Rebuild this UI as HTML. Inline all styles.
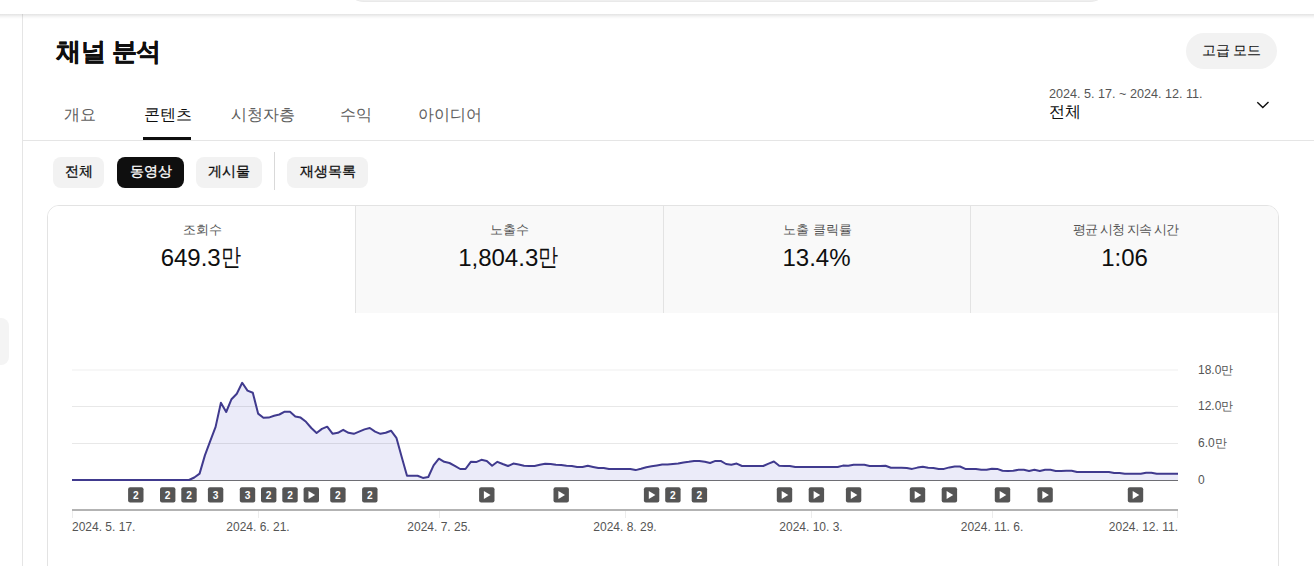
<!DOCTYPE html>
<html><head><meta charset="utf-8"><style>
*{box-sizing:border-box}
html,body{margin:0;padding:0;background:#fff;width:1314px;height:566px;overflow:hidden;font-family:"Liberation Sans",sans-serif;color:#0f0f0f}
.a{position:absolute;white-space:nowrap}
#hdr{position:absolute;left:0;top:0;width:1314px;height:14px;background:#fff;z-index:3}
#hsh{position:absolute;left:0;top:14px;width:1314px;height:5px;background:linear-gradient(rgba(0,0,0,.11),rgba(0,0,0,.03) 60%,rgba(0,0,0,0));z-index:3}
#search{position:absolute;left:344px;top:-39px;width:766px;height:41px;border:1px solid #e9e9e9;border-radius:20px;background:#efefef;z-index:4}
#side{position:absolute;left:22px;top:14px;width:1px;height:560px;background:#e5e5e5}
#sidebtn{position:absolute;left:-20px;top:318px;width:29px;height:47px;border-radius:8px;background:#f4f4f4}
.title{left:56px;top:35px;font-size:25px;font-weight:bold;letter-spacing:-0.4px;-webkit-text-stroke:0.35px #0f0f0f}
.tab{top:105px;font-size:16px;color:#606060}
.tab.sel{color:#0f0f0f}
#tabline{position:absolute;left:143px;top:137px;width:48px;height:3px;background:#0f0f0f}
#divider{position:absolute;left:23px;top:140px;width:1291px;height:1px;background:#e5e5e5}
#adv{position:absolute;left:1186px;top:33px;width:91px;height:36px;border-radius:18px;background:#f2f2f2;font-size:14px;line-height:35px;text-align:center}
.daterange{left:1049px;top:87px;font-size:12.6px;color:#555}
.dateall{left:1049px;top:102px;font-size:16px}
.chip{position:absolute;top:157px;height:31px;border-radius:8px;background:#f2f2f2;font-size:14px;line-height:29px;text-align:center;-webkit-text-stroke:0.3px currentColor}
.chip.sel{background:#0f0f0f;color:#fff}
#vsep{position:absolute;left:274px;top:152px;width:1px;height:38px;background:#d9d9d9}
#card{position:absolute;left:47px;top:205px;width:1232px;height:400px;border:1px solid #e3e3e3;border-radius:12px;overflow:hidden;background:#fff}
.met{position:absolute;top:0;height:107px;background:#f9f9f9;border-left:1px solid #e3e3e3}
.met .lb{position:absolute;left:0;right:0;top:16px;text-align:center;font-size:12.5px;color:#555}
.met .v{position:absolute;left:-2px;right:0;top:36px;line-height:32px;text-align:center;font-size:24px;color:#0f0f0f}
.m{display:inline-block;transform:scaleX(.84);transform-origin:0 0;margin-right:-3.4px;position:relative;top:-1px}
.ylab{font-size:12px;color:#555;left:1198px}
.xlab{font-size:12px;color:#555;top:520px}
</style></head><body>
<div id="hdr"></div><div id="hsh"></div>
<div id="search"></div>
<div id="side"></div>
<div id="sidebtn"></div>
<div class="a title">채널 분석</div>
<div id="adv">고급 모드</div>
<div class="a tab" style="left:64px">개요</div>
<div class="a tab sel" style="left:144px">콘텐츠</div>
<div class="a tab" style="left:231px">시청자층</div>
<div class="a tab" style="left:340px">수익</div>
<div class="a tab" style="left:418px">아이디어</div>
<div id="tabline"></div>
<div id="divider"></div>
<div class="a daterange">2024. 5. 17. ~ 2024. 12. 11.</div>
<div class="a dateall">전체</div>
<svg class="a" style="left:1255px;top:100px" width="16" height="10" viewBox="0 0 16 10"><path d="M2.3,2.3 L7.8,7.6 L13.5,2.1" fill="none" stroke="#0f0f0f" stroke-width="1.4"/></svg>
<div class="chip" style="left:53px;width:51px">전체</div>
<div class="chip sel" style="left:117px;width:67px">동영상</div>
<div class="chip" style="left:196px;width:66px">게시물</div>
<div id="vsep"></div>
<div class="chip" style="left:287px;width:81px">재생목록</div>
<div id="card">
  <div class="met" style="left:0;width:308px;background:#fff;border-left:none"><div class="lb">조회수</div><div class="v">649.3<span class="m">만</span></div></div>
  <div class="met" style="left:307px;width:308px"><div class="lb">노출수</div><div class="v">1,804.3<span class="m">만</span></div></div>
  <div class="met" style="left:615px;width:308px"><div class="lb">노출 클릭률</div><div class="v">13.4%</div></div>
  <div class="met" style="left:922px;width:310px"><div class="lb" style="letter-spacing:-0.9px">평균 시청 지속 시간</div><div class="v">1:06</div></div>
</div>
<svg class="a" style="left:0;top:0" width="1314" height="566" viewBox="0 0 1314 566" font-family="Liberation Sans, sans-serif">
  <path d="M72.0,480.0 L77.3,480.0 L82.6,480.0 L88.0,480.0 L93.3,480.0 L98.6,480.0 L103.9,480.0 L109.2,480.0 L114.5,480.0 L119.9,480.0 L125.2,480.0 L130.5,480.0 L135.8,480.0 L141.1,480.0 L146.4,480.0 L151.8,480.0 L157.1,480.0 L162.4,480.0 L167.7,480.0 L173.0,480.0 L178.3,480.0 L183.7,480.0 L189.0,480.0 L194.3,477.5 L199.6,473.6 L204.9,455.4 L210.2,441.1 L215.6,426.9 L220.9,402.7 L226.2,412.0 L231.5,399.2 L236.8,393.7 L242.2,382.8 L247.5,390.6 L252.8,392.7 L258.1,413.6 L263.4,417.8 L268.7,417.6 L274.1,415.8 L279.4,414.5 L284.7,411.7 L290.0,411.7 L295.3,416.5 L300.6,417.6 L306.0,421.8 L311.3,428.0 L316.6,433.0 L321.9,428.9 L327.2,426.7 L332.5,433.7 L337.9,432.8 L343.2,429.8 L348.5,432.8 L353.8,433.8 L359.1,431.6 L364.5,429.4 L369.8,428.0 L375.1,431.6 L380.4,433.8 L385.7,432.8 L391.0,430.7 L396.4,437.8 L401.7,457.0 L407.0,475.8 L412.3,475.8 L417.6,475.8 L422.9,477.9 L428.3,477.0 L433.6,465.4 L438.9,458.7 L444.2,461.8 L449.5,463.0 L454.8,465.8 L460.2,469.0 L465.5,469.0 L470.8,461.8 L476.1,462.1 L481.4,459.8 L486.8,460.9 L492.1,465.7 L497.4,461.8 L502.7,464.0 L508.0,466.0 L513.3,463.6 L518.7,464.5 L524.0,465.8 L529.3,466.1 L534.6,466.0 L539.9,464.8 L545.2,463.7 L550.6,463.9 L555.9,464.8 L561.2,464.9 L566.5,465.8 L571.8,466.0 L577.1,467.0 L582.5,466.9 L587.8,465.8 L593.1,466.9 L598.4,468.0 L603.7,468.0 L609.0,468.9 L614.4,468.9 L619.7,468.9 L625.0,468.9 L630.3,468.9 L635.6,470.1 L641.0,468.7 L646.3,467.2 L651.6,466.3 L656.9,465.4 L662.2,464.5 L667.5,464.5 L672.9,463.9 L678.2,463.6 L683.5,462.4 L688.8,461.8 L694.1,460.9 L699.4,460.9 L704.8,461.8 L710.1,463.0 L715.4,460.9 L720.7,460.9 L726.0,464.0 L731.3,464.8 L736.7,463.6 L742.0,466.0 L747.3,466.0 L752.6,466.0 L757.9,466.0 L763.2,466.0 L768.6,463.6 L773.9,461.5 L779.2,465.8 L784.5,466.0 L789.8,466.0 L795.2,467.0 L800.5,467.0 L805.8,467.0 L811.1,467.0 L816.4,467.0 L821.7,467.0 L827.1,467.0 L832.4,467.0 L837.7,467.0 L843.0,465.6 L848.3,465.8 L853.6,464.8 L859.0,464.8 L864.3,464.8 L869.6,466.0 L874.9,466.0 L880.2,466.0 L885.5,465.8 L890.9,467.8 L896.2,467.8 L901.5,467.8 L906.8,468.0 L912.1,468.9 L917.5,467.6 L922.8,466.7 L928.1,467.8 L933.4,468.0 L938.7,468.9 L944.0,468.9 L949.4,467.4 L954.7,466.5 L960.0,466.5 L965.3,468.9 L970.6,468.9 L975.9,468.9 L981.3,469.8 L986.6,469.8 L991.9,468.7 L997.2,468.9 L1002.5,470.7 L1007.8,471.0 L1013.2,470.7 L1018.5,469.8 L1023.8,469.8 L1029.1,471.0 L1034.4,469.8 L1039.8,471.0 L1045.1,469.8 L1050.4,469.8 L1055.7,471.0 L1061.0,471.0 L1066.3,470.7 L1071.7,470.7 L1077.0,471.9 L1082.3,471.9 L1087.6,471.9 L1092.9,471.9 L1098.2,471.9 L1103.6,471.9 L1108.9,471.9 L1114.2,473.0 L1119.5,473.0 L1124.8,473.8 L1130.1,473.8 L1135.5,473.8 L1140.8,473.8 L1146.1,472.8 L1151.4,472.8 L1156.7,473.8 L1162.0,473.8 L1167.4,473.8 L1172.7,473.8 L1178.0,473.8 L1178,480 L72,480 Z" fill="#ebebf9"/>
  <g stroke="rgba(0,0,0,0.09)" stroke-width="1">
    <line x1="72" y1="370" x2="1178" y2="370" stroke="rgba(0,0,0,0.065)"/>
    <line x1="72" y1="406.5" x2="1178" y2="406.5"/>
    <line x1="72" y1="443.5" x2="1178" y2="443.5"/>
  </g>
  <line x1="72" y1="480.5" x2="1178" y2="480.5" stroke="#6e6e74" stroke-width="1"/>
  <path d="M72.0,480.0 L77.3,480.0 L82.6,480.0 L88.0,480.0 L93.3,480.0 L98.6,480.0 L103.9,480.0 L109.2,480.0 L114.5,480.0 L119.9,480.0 L125.2,480.0 L130.5,480.0 L135.8,480.0 L141.1,480.0 L146.4,480.0 L151.8,480.0 L157.1,480.0 L162.4,480.0 L167.7,480.0 L173.0,480.0 L178.3,480.0 L183.7,480.0 L189.0,480.0 L194.3,477.5 L199.6,473.6 L204.9,455.4 L210.2,441.1 L215.6,426.9 L220.9,402.7 L226.2,412.0 L231.5,399.2 L236.8,393.7 L242.2,382.8 L247.5,390.6 L252.8,392.7 L258.1,413.6 L263.4,417.8 L268.7,417.6 L274.1,415.8 L279.4,414.5 L284.7,411.7 L290.0,411.7 L295.3,416.5 L300.6,417.6 L306.0,421.8 L311.3,428.0 L316.6,433.0 L321.9,428.9 L327.2,426.7 L332.5,433.7 L337.9,432.8 L343.2,429.8 L348.5,432.8 L353.8,433.8 L359.1,431.6 L364.5,429.4 L369.8,428.0 L375.1,431.6 L380.4,433.8 L385.7,432.8 L391.0,430.7 L396.4,437.8 L401.7,457.0 L407.0,475.8 L412.3,475.8 L417.6,475.8 L422.9,477.9 L428.3,477.0 L433.6,465.4 L438.9,458.7 L444.2,461.8 L449.5,463.0 L454.8,465.8 L460.2,469.0 L465.5,469.0 L470.8,461.8 L476.1,462.1 L481.4,459.8 L486.8,460.9 L492.1,465.7 L497.4,461.8 L502.7,464.0 L508.0,466.0 L513.3,463.6 L518.7,464.5 L524.0,465.8 L529.3,466.1 L534.6,466.0 L539.9,464.8 L545.2,463.7 L550.6,463.9 L555.9,464.8 L561.2,464.9 L566.5,465.8 L571.8,466.0 L577.1,467.0 L582.5,466.9 L587.8,465.8 L593.1,466.9 L598.4,468.0 L603.7,468.0 L609.0,468.9 L614.4,468.9 L619.7,468.9 L625.0,468.9 L630.3,468.9 L635.6,470.1 L641.0,468.7 L646.3,467.2 L651.6,466.3 L656.9,465.4 L662.2,464.5 L667.5,464.5 L672.9,463.9 L678.2,463.6 L683.5,462.4 L688.8,461.8 L694.1,460.9 L699.4,460.9 L704.8,461.8 L710.1,463.0 L715.4,460.9 L720.7,460.9 L726.0,464.0 L731.3,464.8 L736.7,463.6 L742.0,466.0 L747.3,466.0 L752.6,466.0 L757.9,466.0 L763.2,466.0 L768.6,463.6 L773.9,461.5 L779.2,465.8 L784.5,466.0 L789.8,466.0 L795.2,467.0 L800.5,467.0 L805.8,467.0 L811.1,467.0 L816.4,467.0 L821.7,467.0 L827.1,467.0 L832.4,467.0 L837.7,467.0 L843.0,465.6 L848.3,465.8 L853.6,464.8 L859.0,464.8 L864.3,464.8 L869.6,466.0 L874.9,466.0 L880.2,466.0 L885.5,465.8 L890.9,467.8 L896.2,467.8 L901.5,467.8 L906.8,468.0 L912.1,468.9 L917.5,467.6 L922.8,466.7 L928.1,467.8 L933.4,468.0 L938.7,468.9 L944.0,468.9 L949.4,467.4 L954.7,466.5 L960.0,466.5 L965.3,468.9 L970.6,468.9 L975.9,468.9 L981.3,469.8 L986.6,469.8 L991.9,468.7 L997.2,468.9 L1002.5,470.7 L1007.8,471.0 L1013.2,470.7 L1018.5,469.8 L1023.8,469.8 L1029.1,471.0 L1034.4,469.8 L1039.8,471.0 L1045.1,469.8 L1050.4,469.8 L1055.7,471.0 L1061.0,471.0 L1066.3,470.7 L1071.7,470.7 L1077.0,471.9 L1082.3,471.9 L1087.6,471.9 L1092.9,471.9 L1098.2,471.9 L1103.6,471.9 L1108.9,471.9 L1114.2,473.0 L1119.5,473.0 L1124.8,473.8 L1130.1,473.8 L1135.5,473.8 L1140.8,473.8 L1146.1,472.8 L1151.4,472.8 L1156.7,473.8 L1162.0,473.8 L1167.4,473.8 L1172.7,473.8 L1178.0,473.8" fill="none" stroke="#403a8e" stroke-width="2" stroke-linejoin="round"/>
  <line x1="72" y1="510" x2="1178" y2="510" stroke="#b3b3b3" stroke-width="2"/>
  <g stroke="#ececec" stroke-width="1">
    <line x1="72.5" y1="511" x2="72.5" y2="518"/><line x1="258.5" y1="511" x2="258.5" y2="518"/><line x1="439.5" y1="511" x2="439.5" y2="518"/><line x1="625.5" y1="511" x2="625.5" y2="518"/><line x1="811.5" y1="511" x2="811.5" y2="518"/><line x1="992.5" y1="511" x2="992.5" y2="518"/><line x1="1177.5" y1="511" x2="1177.5" y2="518"/>
  </g>
  <rect x="128.1" y="487.2" width="15.4" height="15.4" rx="2" fill="#555"/>
<text x="135.8" y="499.2" text-anchor="middle" font-size="10.2" font-weight="bold" fill="#fff">2</text>
<rect x="160.0" y="487.2" width="15.4" height="15.4" rx="2" fill="#555"/>
<text x="167.7" y="499.2" text-anchor="middle" font-size="10.2" font-weight="bold" fill="#fff">2</text>
<rect x="181.3" y="487.2" width="15.4" height="15.4" rx="2" fill="#555"/>
<text x="189.0" y="499.2" text-anchor="middle" font-size="10.2" font-weight="bold" fill="#fff">2</text>
<rect x="207.9" y="487.2" width="15.4" height="15.4" rx="2" fill="#555"/>
<text x="215.6" y="499.2" text-anchor="middle" font-size="10.2" font-weight="bold" fill="#fff">3</text>
<rect x="239.8" y="487.2" width="15.4" height="15.4" rx="2" fill="#555"/>
<text x="247.5" y="499.2" text-anchor="middle" font-size="10.2" font-weight="bold" fill="#fff">3</text>
<rect x="261.0" y="487.2" width="15.4" height="15.4" rx="2" fill="#555"/>
<text x="268.7" y="499.2" text-anchor="middle" font-size="10.2" font-weight="bold" fill="#fff">2</text>
<rect x="282.3" y="487.2" width="15.4" height="15.4" rx="2" fill="#555"/>
<text x="290.0" y="499.2" text-anchor="middle" font-size="10.2" font-weight="bold" fill="#fff">2</text>
<rect x="303.6" y="487.2" width="15.4" height="15.4" rx="2" fill="#555"/>
<path d="M308.5,491 L315.1,495 L308.5,499 Z" fill="#fff"/>
<rect x="330.2" y="487.2" width="15.4" height="15.4" rx="2" fill="#555"/>
<text x="337.9" y="499.2" text-anchor="middle" font-size="10.2" font-weight="bold" fill="#fff">2</text>
<rect x="362.1" y="487.2" width="15.4" height="15.4" rx="2" fill="#555"/>
<text x="369.8" y="499.2" text-anchor="middle" font-size="10.2" font-weight="bold" fill="#fff">2</text>
<rect x="479.1" y="487.2" width="15.4" height="15.4" rx="2" fill="#555"/>
<path d="M483.9,491 L490.6,495 L483.9,499 Z" fill="#fff"/>
<rect x="553.5" y="487.2" width="15.4" height="15.4" rx="2" fill="#555"/>
<path d="M558.4,491 L565.0,495 L558.4,499 Z" fill="#fff"/>
<rect x="643.9" y="487.2" width="15.4" height="15.4" rx="2" fill="#555"/>
<path d="M648.8,491 L655.4,495 L648.8,499 Z" fill="#fff"/>
<rect x="665.2" y="487.2" width="15.4" height="15.4" rx="2" fill="#555"/>
<text x="672.9" y="499.2" text-anchor="middle" font-size="10.2" font-weight="bold" fill="#fff">2</text>
<rect x="691.7" y="487.2" width="15.4" height="15.4" rx="2" fill="#555"/>
<text x="699.4" y="499.2" text-anchor="middle" font-size="10.2" font-weight="bold" fill="#fff">2</text>
<rect x="776.8" y="487.2" width="15.4" height="15.4" rx="2" fill="#555"/>
<path d="M781.7,491 L788.3,495 L781.7,499 Z" fill="#fff"/>
<rect x="808.7" y="487.2" width="15.4" height="15.4" rx="2" fill="#555"/>
<path d="M813.6,491 L820.2,495 L813.6,499 Z" fill="#fff"/>
<rect x="845.9" y="487.2" width="15.4" height="15.4" rx="2" fill="#555"/>
<path d="M850.8,491 L857.4,495 L850.8,499 Z" fill="#fff"/>
<rect x="909.8" y="487.2" width="15.4" height="15.4" rx="2" fill="#555"/>
<path d="M914.7,491 L921.3,495 L914.7,499 Z" fill="#fff"/>
<rect x="941.7" y="487.2" width="15.4" height="15.4" rx="2" fill="#555"/>
<path d="M946.6,491 L953.2,495 L946.6,499 Z" fill="#fff"/>
<rect x="994.8" y="487.2" width="15.4" height="15.4" rx="2" fill="#555"/>
<path d="M999.7,491 L1006.3,495 L999.7,499 Z" fill="#fff"/>
<rect x="1037.4" y="487.2" width="15.4" height="15.4" rx="2" fill="#555"/>
<path d="M1042.3,491 L1048.9,495 L1042.3,499 Z" fill="#fff"/>
<rect x="1127.8" y="487.2" width="15.4" height="15.4" rx="2" fill="#555"/>
<path d="M1132.7,491 L1139.3,495 L1132.7,499 Z" fill="#fff"/>
</svg>
<div class="a ylab" style="top:362px">18.0만</div>
<div class="a ylab" style="top:398px">12.0만</div>
<div class="a ylab" style="top:435px">6.0만</div>
<div class="a ylab" style="top:473px">0</div>
<div class="a xlab" style="left:72px">2024. 5. 17.</div>
<div class="a xlab" style="left:258px;transform:translateX(-50%)">2024. 6. 21.</div>
<div class="a xlab" style="left:439px;transform:translateX(-50%)">2024. 7. 25.</div>
<div class="a xlab" style="left:625px;transform:translateX(-50%)">2024. 8. 29.</div>
<div class="a xlab" style="left:811px;transform:translateX(-50%)">2024. 10. 3.</div>
<div class="a xlab" style="left:992px;transform:translateX(-50%)">2024. 11. 6.</div>
<div class="a xlab" style="right:136px">2024. 12. 11.</div>
</body></html>
